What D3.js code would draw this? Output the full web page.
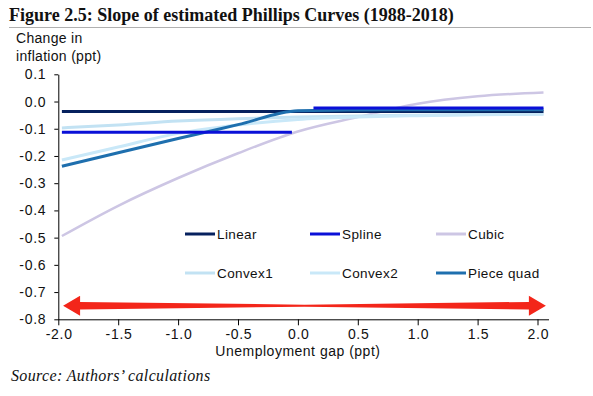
<!DOCTYPE html>
<html>
<head>
<meta charset="utf-8">
<script src="https://cdn.jsdelivr.net/npm/d3@7"></script>
<style>
  body { margin: 0; background: #fff; }
  svg { display: block; }
</style>
</head>
<body>
<div id="chart"></div>
<script>
// data
const X_VALUES = [-1.97, -1.5, -1.0, -0.5, 0.0, 0.5, 1.0, 1.5, 2.05];
const LINEAR = [-0.037, -0.037, -0.037, -0.037, -0.037, -0.037, -0.037, -0.037, -0.037];
const CUBIC = [-0.494, -0.383, -0.281, -0.19, -0.11, -0.057, -0.008, 0.019, 0.033];
const CONVEX1 = [-0.097, -0.086, -0.072, -0.063, -0.057, -0.053, -0.05, -0.048, -0.046];
const CONVEX2 = [-0.215, -0.167, -0.117, -0.086, -0.066, -0.057, -0.052, -0.049, -0.047];
const PIECE_QUAD = [-0.238, -0.188, -0.136, -0.085, -0.034, -0.031, -0.03, -0.03, -0.03];
// spline has a break around zero
const SPLINE_X = [-1.97, -0.05, null, 0.13, 2.05];
const SPLINE = [-0.113, -0.113, null, -0.024, -0.024];

const X_TICKS = [-2.0, -1.5, -1.0, -0.5, 0.0, 0.5, 1.0, 1.5, 2.0];
const Y_TICKS = [0.1, 0.0, -0.1, -0.2, -0.3, -0.4, -0.5, -0.6, -0.7, -0.8];

const SERIES_NAMES = ['Linear', 'Spline', 'Cubic', 'Convex1', 'Convex2', 'Piece quad'];
const COLORS = {
	'Linear': '#06215e',
	'Spline': '#0a10d8',
	'Cubic': '#cdc6e4',
	'Convex1': '#c2e2f3',
	'Convex2': '#c9e8f8',
	'Piece quad': '#1e6fae'
};

const FRAME_WIDTH = 593;
const FRAME_HEIGHT = 396;

const SANS = "'Liberation Sans', Arial, sans-serif";
const SERIF = "'Liberation Serif', 'Times New Roman', serif";

const X_SCALE = d3.scaleLinear().domain([-2, 2]).range([58.3, 537.5]);
const Y_SCALE = d3.scaleLinear().domain([-0.8, 0.1]).range([319.3, 74.3]);

const FRAME = d3.select('#chart')
	.append('svg')
		.attr('width', FRAME_WIDTH)
		.attr('height', FRAME_HEIGHT);

// title + rule
FRAME.append('text')
	.attr('x', 9)
	.attr('y', 21)
	.attr('font-family', SERIF)
	.attr('font-weight', 'bold')
	.attr('font-size', '18px')
	.attr('fill', '#111')
	.text('Figure 2.5: Slope of estimated Phillips Curves (1988-2018)');

FRAME.append('line')
	.attr('x1', 9).attr('x2', 591)
	.attr('y1', 27.5).attr('y2', 27.5)
	.attr('stroke', '#b0b0b0')
	.attr('stroke-width', 1);

// y axis title
FRAME.append('text')
	.attr('font-family', SANS)
	.attr('font-size', '14px')
	.attr('letter-spacing', '0.3px')
	.attr('fill', '#111')
	.selectAll('tspan')
	.data(['Change in', 'inflation (ppt)'])
	.enter()
	.append('tspan')
		.attr('x', 16)
		.attr('y', (d, i) => 43 + i * 18)
		.text(d => d);

// axes
const yAxis = FRAME.append('g')
	.attr('transform', 'translate(' + X_SCALE(-2) + ',0)')
	.call(d3.axisLeft(Y_SCALE)
		.tickValues(Y_TICKS)
		.tickSize(4)
		.tickSizeOuter(0)
		.tickFormat(d => d.toFixed(1)));

const xAxis = FRAME.append('g')
	.attr('transform', 'translate(0,' + Y_SCALE(-0.8) + ')')
	.call(d3.axisBottom(X_SCALE)
		.tickValues(X_TICKS)
		.tickSize(6)
		.tickSizeOuter(0)
		.tickFormat(d => d.toFixed(1)));

xAxis.select('.domain').remove();
xAxis.append('line')
	.attr('x1', X_SCALE(-2)).attr('x2', 549)
	.attr('y1', 0.5).attr('y2', 0.5)
	.attr('stroke', '#000');

[xAxis, yAxis].forEach(ax => {
	ax.selectAll('text')
		.attr('font-family', SANS)
		.attr('font-size', '14px')
		.attr('letter-spacing', '0.7px')
		.attr('fill', '#111');
	ax.attr('font-family', null).attr('font-size', null);
});
yAxis.selectAll('.tick text').attr('x', -12);
xAxis.selectAll('.tick text').attr('y', 9.5).attr('dx', '0.35px');

FRAME.append('text')
	.attr('x', X_SCALE(0))
	.attr('y', 356)
	.attr('text-anchor', 'middle')
	.attr('font-family', SANS)
	.attr('font-size', '14px')
	.attr('letter-spacing', '0.5px')
	.attr('fill', '#111')
	.text('Unemployment gap (ppt)');

FRAME.append('text')
	.attr('x', 11)
	.attr('y', 381)
	.attr('font-family', SERIF)
	.attr('font-style', 'italic')
	.attr('font-size', '16px')
	.attr('letter-spacing', '0.35px')
	.attr('fill', '#111')
	.text('Source: Authors\u2019 calculations');

// lines
const smooth = d3.line()
	.defined(d => d[1] !== null)
	.x(d => X_SCALE(d[0]))
	.y(d => Y_SCALE(d[1]))
	.curve(d3.curveMonotoneX);

const straight = d3.line()
	.defined(d => d[1] !== null)
	.x(d => X_SCALE(d[0]))
	.y(d => Y_SCALE(d[1]));

function pairs(xs, ys) {
	return xs.map((x, i) => [x, ys[i]]);
}

const DRAW_ORDER = [
	{name: 'Cubic', data: pairs(X_VALUES, CUBIC), gen: smooth, width: 2.5},
	{name: 'Convex1', data: pairs(X_VALUES, CONVEX1), gen: smooth, width: 3},
	{name: 'Convex2', data: pairs(X_VALUES, CONVEX2), gen: smooth, width: 3},
	{name: 'Linear', data: pairs(X_VALUES, LINEAR), gen: straight, width: 3},
	{name: 'Piece quad', data: pairs(X_VALUES, PIECE_QUAD), gen: smooth, width: 3},
	{name: 'Spline', data: pairs(SPLINE_X, SPLINE), gen: straight, width: 3}
];

FRAME.selectAll('.series')
	.data(DRAW_ORDER)
	.enter()
	.append('path')
		.attr('class', 'series')
		.attr('d', d => d.gen(d.data))
		.attr('fill', 'none')
		.attr('stroke', d => COLORS[d.name])
		.attr('stroke-width', d => d.width);

// legend, 3 columns x 2 rows
const LEG_X = [185, 310, 436];
const LEG_Y = [234, 273];

const legend = FRAME.selectAll('.legend')
	.data(SERIES_NAMES)
	.enter()
	.append('g')
		.attr('class', 'legend')
		.attr('transform', (d, i) => 'translate(' + LEG_X[i % 3] + ',' + LEG_Y[Math.floor(i / 3)] + ')');

legend.append('line')
	.attr('x1', 0).attr('x2', 30)
	.attr('y1', 0).attr('y2', 0)
	.attr('stroke', d => COLORS[d])
	.attr('stroke-width', 3);

legend.append('text')
	.attr('x', 32)
	.attr('y', 5)
	.attr('font-family', SANS)
	.attr('font-size', '13.5px')
	.attr('letter-spacing', '0.4px')
	.attr('fill', '#111')
	.text(d => d);

// red double-headed arrow along the bottom
const ARROW_Y = Y_SCALE(-0.75);
const ax0 = X_SCALE(-1.96), ax1 = X_SCALE(2.07);
const head = 17, hh = 10, sh = 3.8, mid = (ax0 + ax1) / 2;
const arrowPts = [
	[ax0, ARROW_Y], [ax0 + head, ARROW_Y - hh], [ax0 + head, ARROW_Y - sh],
	[mid, ARROW_Y - 1], [ax1 - head, ARROW_Y - sh], [ax1 - head, ARROW_Y - hh],
	[ax1, ARROW_Y], [ax1 - head, ARROW_Y + hh], [ax1 - head, ARROW_Y + sh],
	[mid, ARROW_Y + 1], [ax0 + head, ARROW_Y + sh], [ax0 + head, ARROW_Y + hh]
];

FRAME.append('path')
	.attr('d', 'M' + arrowPts.map(p => p.join(',')).join('L') + 'Z')
	.attr('fill', '#f3261a');
</script>
</body>
</html>
